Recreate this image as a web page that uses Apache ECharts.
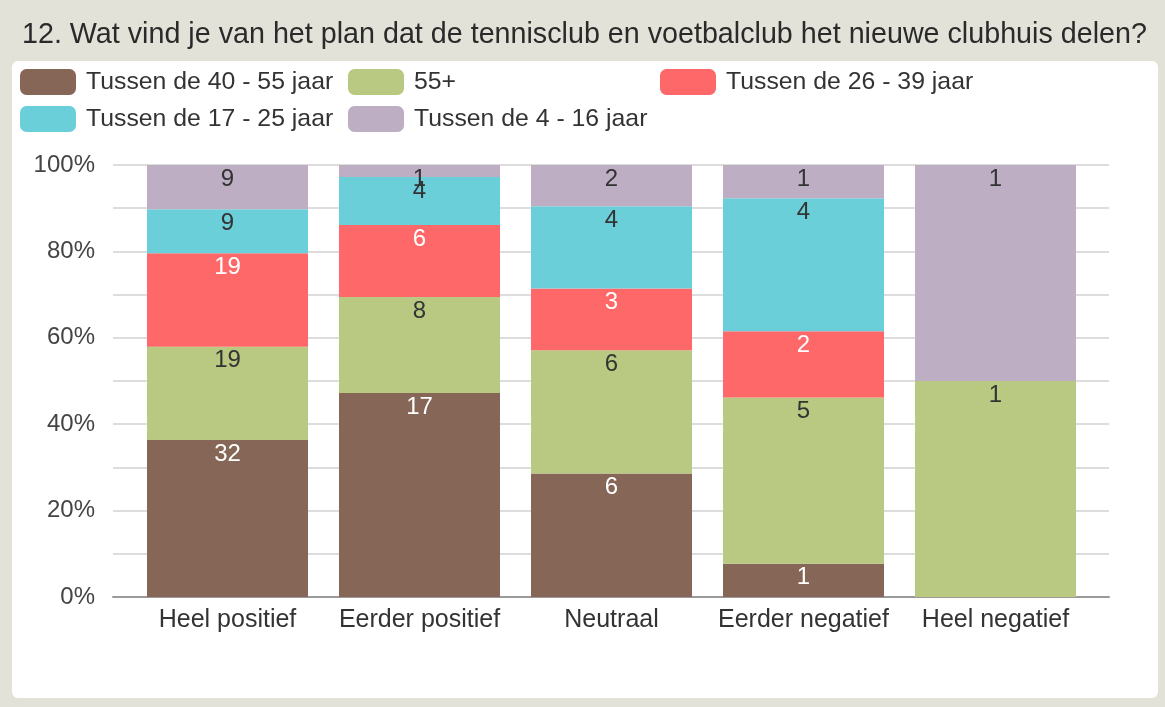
<!DOCTYPE html>
<html>
<head>
<meta charset="utf-8">
<script src="https://cdn.jsdelivr.net/npm/echarts@6/dist/echarts.min.js"></script>
<style>
html,body{margin:0;padding:0;background:#e2e2d8;}
#c{width:1165px;height:707px;}
</style>
</head>
<body>
<div id="c"></div>
<script>
const title = '12. Wat vind je van het plan dat de tennisclub en voetbalclub het nieuwe clubhuis delen?';
const categories = ['Heel positief', 'Eerder positief', 'Neutraal', 'Eerder negatief', 'Heel negatief'];
const seriesNames = ['Tussen de 40 - 55 jaar', '55+', 'Tussen de 26 - 39 jaar', 'Tussen de 17 - 25 jaar', 'Tussen de 4 - 16 jaar'];
const age40_55 = [32, 17, 6, 1, 0];
const age55plus = [19, 8, 6, 5, 1];
const age26_39 = [19, 6, 3, 2, 0];
const age17_25 = [9, 4, 4, 4, 0];
const age4_16 = [9, 1, 2, 1, 1];
const yTicks = [0, 20, 40, 60, 80, 100];

const counts = [age40_55, age55plus, age26_39, age17_25, age4_16];
const colors = ['#856657', '#b9c981', '#fe6868', '#6bcfda', '#bdaec3'];
const labelColors = ['#ffffff', '#333333', '#ffffff', '#333333', '#333333'];
const totals = categories.map((_, i) => counts.reduce((s, a) => s + a[i], 0));

const FONT = '"Liberation Sans", Arial, sans-serif';
const FS = 25;

const series = counts.map((arr, si) => ({
  name: seriesNames[si],
  type: 'bar',
  stack: 'total',
  xAxisIndex: 1,
  yAxisIndex: 1,
  barWidth: 161,
  itemStyle: { color: colors[si] },
  label: {
    show: true,
    position: 'insideTop',
    distance: 2,
    color: labelColors[si],
    fontFamily: FONT,
    fontSize: 24,
    formatter: p => arr[p.dataIndex] ? String(arr[p.dataIndex]) : ''
  },
  data: arr.map((v, i) => v / totals[i] * 100)
}));

const legendPos = [[20, 69], [348, 69], [660, 69], [20, 106], [348, 106]];
const legends = seriesNames.map((n, i) => ({
  data: [n],
  left: legendPos[i][0],
  top: legendPos[i][1],
  padding: 0,
  itemWidth: 56,
  itemHeight: 26,
  itemGap: 0,
  selectedMode: false,
  icon: 'roundRect',
  textStyle: { fontFamily: FONT, fontSize: 24.8, color: '#333', padding: [0, 0, 0, 5] }
}));

const chart = echarts.init(document.getElementById('c'));
chart.setOption({
  backgroundColor: '#e2e2d8',
  animation: false,
  graphic: [{
    type: 'rect',
    shape: { x: 12, y: 61, width: 1146, height: 637, r: 6 },
    style: { fill: '#ffffff' },
    z: -10
  }],
  title: {
    text: title,
    left: 17,
    top: 16,
    textStyle: { fontFamily: FONT, fontSize: 28.7, fontWeight: 'normal', color: '#2a2a2a' }
  },
  legend: legends,
  grid: [
    { left: 113, right: 56, top: 165, bottom: 110 },
    { left: 131.5, right: 73.5, top: 165, bottom: 110 }
  ],
  xAxis: [
    { type: 'category', gridIndex: 0, data: [''], axisLine: { show: true, lineStyle: { color: '#9a9a9a', width: 2 } }, axisTick: { show: false }, axisLabel: { show: false } },
    { type: 'category', gridIndex: 1, data: categories, axisLine: { show: false }, axisTick: { show: false },
      axisLabel: { interval: 0, fontFamily: FONT, fontSize: FS, color: '#333', margin: 11 } }
  ],
  yAxis: [
    { type: 'value', gridIndex: 0, min: 0, max: 100, interval: 10,
      axisLine: { show: false }, axisTick: { show: false },
      splitLine: { lineStyle: { color: '#dddddd', width: 2 } },
      axisLabel: { fontFamily: FONT, fontSize: 24, color: '#444', margin: 18,
        formatter: v => yTicks.includes(v) ? v + '%' : '' } },
    { type: 'value', gridIndex: 1, min: 0, max: 100, show: false }
  ],
  series: series
});
</script>
</body>
</html>
